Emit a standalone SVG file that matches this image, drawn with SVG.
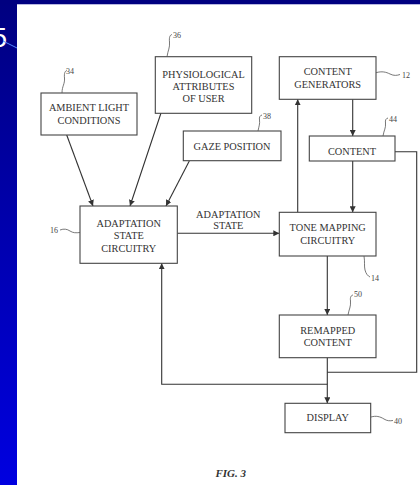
<svg xmlns="http://www.w3.org/2000/svg" width="420" height="485" viewBox="0 0 420 485">
<defs>
<linearGradient id="side" x1="0" y1="0" x2="0" y2="1">
<stop offset="0" stop-color="#000080"/>
<stop offset="1" stop-color="#0000e0"/>
</linearGradient>
<marker id="ah" viewBox="0 0 10 10" refX="10" refY="5" markerWidth="6" markerHeight="6" orient="auto" markerUnits="userSpaceOnUse">
<path d="M0,0 L10,5 L0,10 Z" fill="#333"/>
</marker>
<style>
.box{fill:#fff;stroke:#444;stroke-width:1.1}
.t{font-family:"Liberation Serif","Times New Roman",serif;font-size:10.3px;fill:#333;text-anchor:middle}
.n{font-family:"Liberation Serif","Times New Roman",serif;font-size:8px;fill:#444}
.c{fill:none;stroke:#333;stroke-width:1.1}
.ld{fill:none;stroke:#555;stroke-width:0.8}
</style>
</defs>
<rect x="0" y="0" width="420" height="485" fill="#fff"/>
<rect x="0" y="0" width="17" height="485" fill="url(#side)"/>
<rect x="0" y="0" width="420" height="4" fill="#000080"/>
<line x1="17" y1="4.5" x2="420" y2="4.5" stroke="#b8b8e0" stroke-width="1"/>
<text x="7" y="47" font-family="Liberation Sans, Arial, sans-serif" font-size="28" fill="#fff" text-anchor="end">5</text>
<line x1="3" y1="41" x2="17" y2="48" stroke="#5588ff" stroke-width="1"/>

<g id="connectors">
<line class="c" x1="66.7" y1="135" x2="93" y2="206" marker-end="url(#ah)"/>
<line class="c" x1="161" y1="113" x2="130" y2="206" marker-end="url(#ah)"/>
<line class="c" x1="189.3" y1="161" x2="166" y2="206" marker-end="url(#ah)"/>
<line class="c" x1="177.3" y1="233.3" x2="279.3" y2="233.3" marker-end="url(#ah)"/>
<line class="c" x1="352.7" y1="99.3" x2="352.7" y2="136" marker-end="url(#ah)"/>
<line class="c" x1="352.7" y1="161" x2="352.7" y2="212.3" marker-end="url(#ah)"/>
<line class="c" x1="297.7" y1="212.3" x2="297.7" y2="99.3" marker-end="url(#ah)"/>
<line class="c" x1="327.3" y1="256" x2="327.3" y2="315" marker-end="url(#ah)"/>
<line class="c" x1="327.3" y1="357.7" x2="327.3" y2="403.3" marker-end="url(#ah)"/>
<polyline class="c" points="395,151.7 416.7,151.7 416.7,372.3 327.3,372.3"/>
<polyline class="c" points="327.3,384.3 161.7,384.3 161.7,263.3" marker-end="url(#ah)"/>
<text class="t" x="228.3" y="217.7">ADAPTATION</text>
<text class="t" x="228.3" y="229">STATE</text>
</g>

<g id="n34">
<rect class="box" x="41" y="93" width="96" height="42"/>
<text class="t" x="89" y="110.7">AMBIENT LIGHT</text>
<text class="t" x="89" y="124">CONDITIONS</text>
<path class="ld" d="M62,93 C62,86 65,84 64.5,78 C64,73 65,71 67,70.5"/>
<text class="n" x="66" y="74">34</text>
</g>

<g id="n36">
<rect class="box" x="155.3" y="56.7" width="96.4" height="56.6"/>
<text class="t" x="203.5" y="77.5">PHYSIOLOGICAL</text>
<text class="t" x="203.5" y="90">ATTRIBUTES</text>
<text class="t" x="203.5" y="101.7">OF USER</text>
<path class="ld" d="M167,56.7 C168,50 170,48 169.5,42 C169,37 170,35 172,34.5"/>
<text class="n" x="173" y="38">36</text>
</g>

<g id="n38">
<rect class="box" x="183.3" y="131" width="97.7" height="29.7"/>
<text class="t" x="232" y="150">GAZE POSITION</text>
<path class="ld" d="M258,131 C259,126 260,124 259.5,120 C259,117 260,115.5 262,115"/>
<text class="n" x="263" y="118.5">38</text>
</g>

<g id="n12">
<rect class="box" x="279.3" y="56.7" width="96.7" height="42.6"/>
<text class="t" x="327.7" y="75">CONTENT</text>
<text class="t" x="327.7" y="87.7">GENERATORS</text>
<path class="ld" d="M376,72.7 C382,71 386,72 390,74 C394,76 397,75.5 400,74.5"/>
<text class="n" x="402" y="77.5">12</text>
</g>

<g id="n44">
<rect class="box" x="309.3" y="136" width="85.7" height="25"/>
<text class="t" x="352" y="155">CONTENT</text>
<path class="ld" d="M383,136 C384,130 386,128 385.5,123 C385,120 386,118.5 388,118"/>
<text class="n" x="389" y="121.5">44</text>
</g>

<g id="n16">
<rect class="box" x="80" y="206" width="97.3" height="57.3"/>
<text class="t" x="128.7" y="226.7">ADAPTATION</text>
<text class="t" x="128.7" y="239.4">STATE</text>
<text class="t" x="128.7" y="251.7">CIRCUITRY</text>
<path class="ld" d="M60,230 C64,228.5 67,229 70,231 C73,233 76,233 80,232.5"/>
<text class="n" x="50" y="233">16</text>
</g>

<g id="n14">
<rect class="box" x="279.3" y="212.3" width="96.7" height="43.7"/>
<text class="t" x="327.7" y="231">TONE MAPPING</text>
<text class="t" x="327.7" y="244">CIRCUITRY</text>
<path class="ld" d="M364,256 C365,262 364,266 365,270 C366,274 368,276 370,277"/>
<text class="n" x="371" y="281">14</text>
</g>

<g id="n50">
<rect class="box" x="279.3" y="315" width="96.7" height="42.7"/>
<text class="t" x="327.7" y="334">REMAPPED</text>
<text class="t" x="327.7" y="345.7">CONTENT</text>
<path class="ld" d="M348,315 C349,309 351,307 350.5,301 C350,297 351,295.5 353,295"/>
<text class="n" x="354" y="297">50</text>
</g>

<g id="n40">
<rect class="box" x="285" y="403.3" width="85.7" height="29.4"/>
<text class="t" x="327.8" y="421">DISPLAY</text>
<path class="ld" d="M371,417 C376,415.5 380,416.5 384,419 C387,421 390,421 393,420.5"/>
<text class="n" x="394" y="424">40</text>
</g>

<text x="230.7" y="477" font-family="Liberation Serif, 'Times New Roman', serif" font-size="11" font-weight="bold" font-style="italic" fill="#333" text-anchor="middle">FIG. 3</text>
</svg>
